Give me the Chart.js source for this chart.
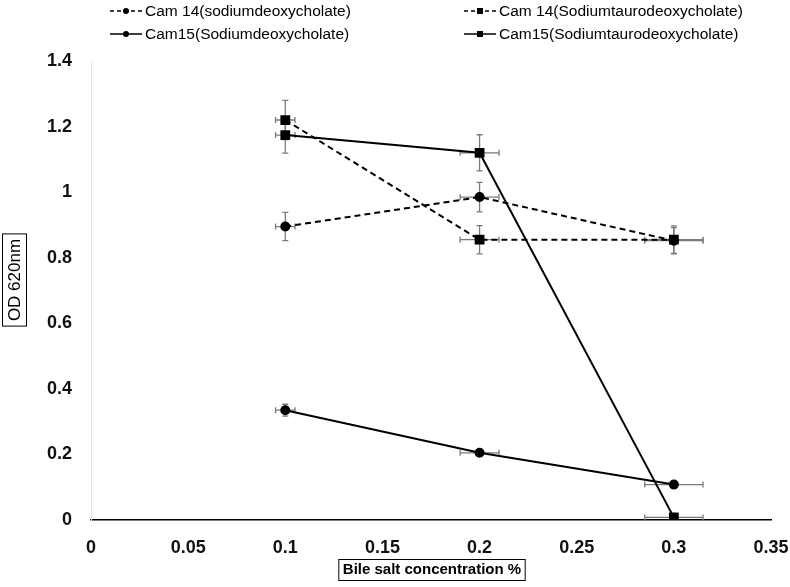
<!DOCTYPE html>
<html>
<head>
<meta charset="utf-8">
<script src="https://cdn.jsdelivr.net/npm/chart.js@4.4.1/dist/chart.umd.min.js"></script>
<style>
  html, body { margin: 0; padding: 0; background: #fff; }
  #wrap { width: 790px; height: 587px; position: relative; }
</style>
</head>
<body>
<div id="wrap"><canvas id="bileChart" width="790" height="587"></canvas></div>
<script>
// Bile salt tolerance: OD 620nm vs bile salt concentration
const concentrations = [0.1, 0.2, 0.3];

const cam14Deoxy = [0.895, 0.985, 0.852];
const cam14Tauro = [1.22, 0.855, 0.855];
const cam15Deoxy = [0.335, 0.205, 0.108];
const cam15Tauro = [1.174, 1.12, 0.008];

const cam14DeoxyYErr = [0.043, 0.045, 0.04];
const cam14TauroYErr = [0.06, 0.043, 0.042];
const cam15DeoxyYErr = [0.018, 0.01, 0.0];
const cam15TauroYErr = [0.055, 0.055, 0.0];

const cam14DeoxyXErr = [0.005, 0.01, 0.015];
const cam14TauroXErr = [0.005, 0.01, 0.015];
const cam15DeoxyXErr = [0.005, 0.01, 0.015];
const cam15TauroXErr = [0.005, 0.01, 0.015];

const seriesLabels = [
  "Cam 14(sodiumdeoxycholate)",
  "Cam 14(Sodiumtaurodeoxycholate)",
  "Cam15(Sodiumdeoxycholate)",
  "Cam15(Sodiumtaurodeoxycholate)"
];

const yTicks = [0, 0.2, 0.4, 0.6, 0.8, 1, 1.2, 1.4];
const xTicks = [0, 0.05, 0.1, 0.15, 0.2, 0.25, 0.3, 0.35];

const FONT = "'Liberation Sans', Arial, sans-serif";

const toPoints = (ys, yErr, xErr) => concentrations.map((x, i) => ({ x, y: ys[i], ye: yErr[i], xe: xErr[i] }));

const mkSet = (label, ys, yErr, xErr, dashed, style) => ({
  label, data: toPoints(ys, yErr, xErr),
  borderColor: "#000", backgroundColor: "#000", borderWidth: 2,
  borderDash: dashed ? [6, 4] : [],
  pointStyle: style, pointRadius: style === "rect" ? 5.5 : 4, pointHoverRadius: style === "rect" ? 5.5 : 4,
  fill: false, tension: 0
});

// error bars + legend + boxed axis titles
const extras = {
  id: "extras",
  beforeDatasetsDraw(chart) {
    const { ctx, scales: { x, y } } = chart;
    ctx.save();
    ctx.strokeStyle = "#7a7a7a";
    ctx.lineWidth = 1.3;
    const cap = 3;
    chart.data.datasets.forEach(ds => {
      ds.data.forEach(p => {
        const px = x.getPixelForValue(p.x), py = y.getPixelForValue(p.y);
        if (p.ye > 0) {
          const t = y.getPixelForValue(p.y + p.ye), b = y.getPixelForValue(p.y - p.ye);
          ctx.beginPath();
          ctx.moveTo(px, t); ctx.lineTo(px, b);
          ctx.moveTo(px - cap, t); ctx.lineTo(px + cap, t);
          ctx.moveTo(px - cap, b); ctx.lineTo(px + cap, b);
          ctx.stroke();
        }
        if (p.xe > 0) {
          const l = x.getPixelForValue(p.x - p.xe), r = x.getPixelForValue(p.x + p.xe);
          ctx.beginPath();
          ctx.moveTo(l, py); ctx.lineTo(r, py);
          ctx.moveTo(l, py - cap); ctx.lineTo(l, py + cap);
          ctx.moveTo(r, py - cap); ctx.lineTo(r, py + cap);
          ctx.stroke();
        }
      });
    });
    ctx.restore();
  },
  afterDraw(chart) {
    const { ctx } = chart;
    ctx.save();
    // legend, two columns
    const slots = [[110, 11], [464, 11], [110, 34], [464, 34]];
    chart.data.datasets.forEach((ds, i) => {
      const [lx, ly] = slots[i];
      ctx.strokeStyle = "#000";
      ctx.lineWidth = 1.5;
      ctx.setLineDash(ds.borderDash.length ? [4, 3] : []);
      ctx.beginPath(); ctx.moveTo(lx, ly); ctx.lineTo(lx + 32, ly); ctx.stroke();
      ctx.setLineDash([]);
      ctx.fillStyle = "#000";
      if (ds.pointStyle === "rect") ctx.fillRect(lx + 13, ly - 3, 6, 6);
      else { ctx.beginPath(); ctx.arc(lx + 16, ly, 3, 0, Math.PI * 2); ctx.fill(); }
      ctx.font = "15.5px " + FONT;
      ctx.fillStyle = "#000";
      ctx.textBaseline = "middle";
      ctx.fillText(ds.label, lx + 35, ly + 1);
    });
    // boxed axis titles
    ctx.font = "bold 15px " + FONT;
    ctx.textAlign = "center";
    ctx.textBaseline = "middle";
    ctx.strokeStyle = "#000";
    ctx.lineWidth = 1;
    const xt = "Bile salt concentration %";
    const xw = ctx.measureText(xt).width;
    ctx.fillText(xt, 432, 570);
    ctx.strokeRect(432 - xw / 2 - 4, 559.5, xw + 8, 21);
    ctx.font = "17px " + FONT;
    const yt = "OD 620nm";
    const yw = ctx.measureText(yt).width;
    ctx.translate(14.5, 280);
    ctx.rotate(-Math.PI / 2);
    ctx.fillText(yt, 0, 1);
    ctx.strokeRect(-yw / 2 - 5, -12, yw + 10, 24);
    ctx.restore();
  }
};

const fmt = v => String(+Number(v).toFixed(2));

new Chart(document.getElementById("bileChart"), {
  type: "line",
  data: {
    datasets: [
      mkSet(seriesLabels[0], cam14Deoxy, cam14DeoxyYErr, cam14DeoxyXErr, true, "circle"),
      mkSet(seriesLabels[1], cam14Tauro, cam14TauroYErr, cam14TauroXErr, true, "rect"),
      mkSet(seriesLabels[2], cam15Deoxy, cam15DeoxyYErr, cam15DeoxyXErr, false, "circle"),
      mkSet(seriesLabels[3], cam15Tauro, cam15TauroYErr, cam15TauroXErr, false, "rect")
    ]
  },
  options: {
    responsive: false,
    animation: false,
    layout: { padding: { top: 61, right: 19, left: 0, bottom: 0 } },
    plugins: { legend: { display: false }, tooltip: { enabled: false } },
    scales: {
      x: {
        type: "linear", min: 0, max: 0.35,
        afterBuildTicks: s => { s.ticks = xTicks.map(v => ({ value: v })); },
        afterFit: s => { s.height = 67; s.paddingLeft = 0; s.paddingRight = 0; },
        grid: { display: false, drawTicks: false },
        border: { display: true, color: "#000", width: 1.5 },
        ticks: { color: "#111", padding: 17, maxRotation: 0, callback: fmt, font: { family: FONT, size: 18, weight: "bold" } }
      },
      y: {
        type: "linear", min: 0, max: 1.4,
        afterBuildTicks: s => { s.ticks = yTicks.map(v => ({ value: v })); },
        afterFit: s => { s.width = 91; s.paddingTop = 0; s.paddingBottom = 0; },
        grid: { display: false, drawTicks: false },
        border: { display: true, color: "#e4e4e4", width: 1 },
        ticks: { color: "#111", padding: 19, callback: fmt, font: { family: FONT, size: 18, weight: "bold" } }
      }
    }
  },
  plugins: [extras]
});
</script>
</body>
</html>
